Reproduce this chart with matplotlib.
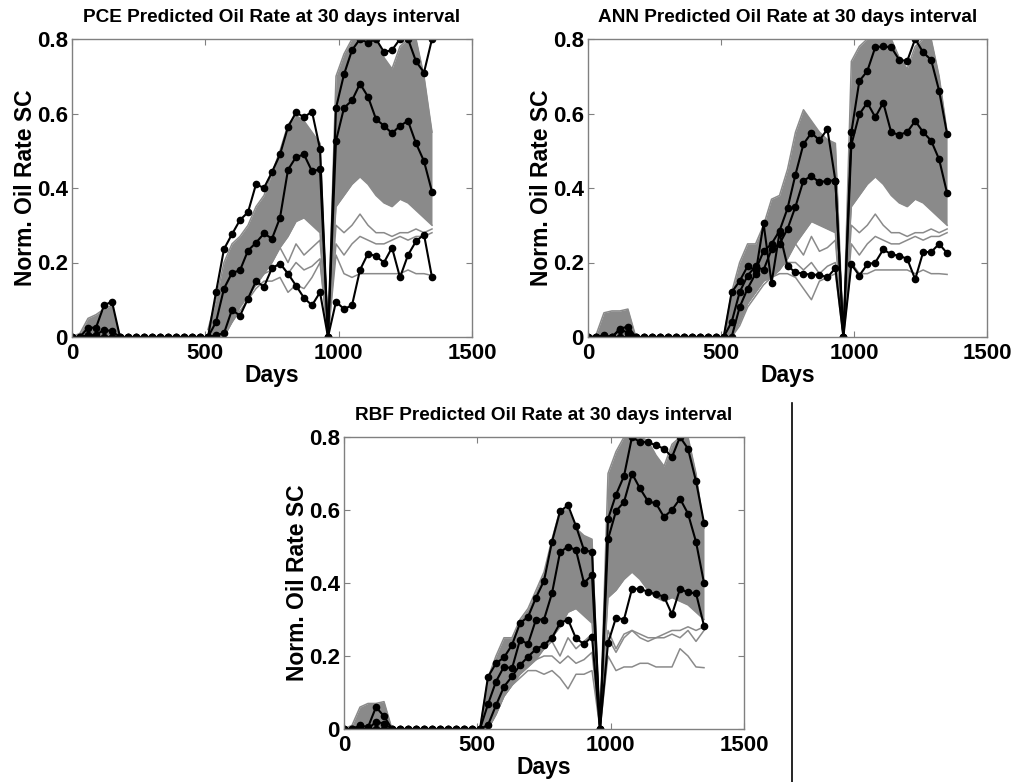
import matplotlib.pyplot as plt
import numpy as np
from matplotlib.lines import Line2D

# 30-day time steps, 0 .. 1350 days (46 points)
days = np.arange(0, 1351, 30)

# ---- black reference curves -------------------------------------------
# early bump (steps 0..5), then zeros up to step 17, then steps 18..45
pce_a_early = [0, 0, 0.025, 0.025, 0.085, 0.095]
pce_a_main = [0.12, 0.236, 0.276, 0.314, 0.335, 0.41, 0.40, 0.443, 0.49, 0.564, 0.603, 0.59, 0.605, 0.505,
              0,
              0.615, 0.705, 0.77, 0.80, 0.79, 0.80, 0.765, 0.77, 0.80, 0.80, 0.74, 0.71, 0.80]
pce_b_early = [0, 0, 0.005, 0.005, 0.02, 0.015]
pce_b_main = [0.04, 0.13, 0.172, 0.179, 0.232, 0.253, 0.278, 0.264, 0.32, 0.449, 0.483, 0.49, 0.445, 0.45,
              0,
              0.527, 0.615, 0.635, 0.68, 0.645, 0.585, 0.567, 0.547, 0.567, 0.58, 0.52, 0.472, 0.39]
pce_c_early = [0, 0, 0, 0, 0, 0]
pce_c_main = [0.005, 0.01, 0.073, 0.057, 0.103, 0.15, 0.135, 0.185, 0.197, 0.17, 0.138, 0.105, 0.085, 0.12,
              0,
              0.095, 0.075, 0.085, 0.18, 0.224, 0.217, 0.2, 0.24, 0.16, 0.22, 0.257, 0.275, 0.16]

ann_a_early = [0, 0, 0.005, 0, 0.022, 0.028]
ann_a_main = [0.12, 0.15, 0.19, 0.18, 0.23, 0.25, 0.285, 0.345, 0.436, 0.518, 0.548, 0.528, 0.558, 0.42,
              0,
              0.549, 0.687, 0.714, 0.778, 0.78, 0.778, 0.744, 0.741, 0.80, 0.764, 0.744, 0.661, 0.545]
ann_b_early = [0, 0, 0, 0, 0.02, 0.012]
ann_b_main = [0.04, 0.12, 0.165, 0.19, 0.18, 0.235, 0.25, 0.29, 0.35, 0.42, 0.432, 0.415, 0.42, 0.42,
              0,
              0.516, 0.598, 0.629, 0.59, 0.629, 0.549, 0.543, 0.55, 0.58, 0.55, 0.527, 0.477, 0.386]
ann_c_early = [0, 0, 0, 0, 0, 0]
ann_c_main = [0.0, 0.08, 0.13, 0.17, 0.305, 0.145, 0.28, 0.19, 0.174, 0.17, 0.167, 0.167, 0.16, 0.185,
              0,
              0.195, 0.165, 0.195, 0.2, 0.235, 0.222, 0.218, 0.21, 0.155, 0.228, 0.228, 0.25, 0.225]

rbf_a_early = [0, 0, 0.01, 0.005, 0.06, 0.035]
rbf_a_main = [0.143, 0.18, 0.196, 0.23, 0.29, 0.307, 0.36, 0.406, 0.513, 0.596, 0.613, 0.556, 0.49, 0.485,
              0,
              0.575, 0.642, 0.693, 0.80, 0.786, 0.786, 0.777, 0.768, 0.745, 0.80, 0.768, 0.679, 0.565]
rbf_b_early = [0, 0, 0, 0, 0.02, 0.015]
rbf_b_main = [0.068, 0.13, 0.171, 0.166, 0.244, 0.233, 0.30, 0.30, 0.372, 0.484, 0.50, 0.49, 0.40, 0.422,
              0,
              0.52, 0.597, 0.622, 0.70, 0.659, 0.624, 0.618, 0.581, 0.60, 0.631, 0.59, 0.513, 0.40]
rbf_c_early = [0, 0, 0, 0, 0, 0]
rbf_c_main = [0.011, 0.065, 0.116, 0.144, 0.175, 0.198, 0.219, 0.23, 0.25, 0.29, 0.30, 0.248, 0.233, 0.253,
              0,
              0.235, 0.305, 0.30, 0.384, 0.384, 0.376, 0.369, 0.363, 0.314, 0.384, 0.374, 0.372, 0.283]

# ---- grey ensemble --------------------------------------------------------
# bump envelope, steps 0..6
pce_bump = [0, 0.01, 0.05, 0.06, 0.075, 0.085, 0]
ann_bump = [0, 0.005, 0.065, 0.07, 0.07, 0.075, 0]
rbf_bump = [0, 0.01, 0.06, 0.07, 0.07, 0.075, 0]

# steps 17..45: upper edge and lower edge of the dense band
pce_hi = [0.02, 0.1, 0.2, 0.25, 0.27, 0.3, 0.35, 0.38, 0.44, 0.5, 0.57, 0.595, 0.58, 0.55, 0.52,
          0, 0.7, 0.76, 0.8, 0.8, 0.8, 0.8, 0.75, 0.72, 0.78, 0.8, 0.8, 0.7, 0.55]
pce_lo = [0, 0, 0, 0.04, 0.08, 0.11, 0.14, 0.17, 0.2, 0.24, 0.27, 0.31, 0.32, 0.3, 0.28,
          0, 0.35, 0.38, 0.41, 0.43, 0.41, 0.38, 0.36, 0.35, 0.37, 0.36, 0.34, 0.32, 0.3]
ann_hi = [0.0, 0.12, 0.2, 0.25, 0.25, 0.3, 0.37, 0.38, 0.45, 0.55, 0.61, 0.58, 0.55, 0.53, 0.52,
          0, 0.74, 0.78, 0.8, 0.8, 0.8, 0.8, 0.75, 0.72, 0.78, 0.8, 0.8, 0.7, 0.55]
ann_lo = [0, 0, 0.04, 0.09, 0.12, 0.15, 0.16, 0.18, 0.21, 0.25, 0.28, 0.31, 0.3, 0.29, 0.28,
          0, 0.35, 0.38, 0.41, 0.43, 0.41, 0.38, 0.36, 0.35, 0.37, 0.36, 0.34, 0.32, 0.3]
rbf_hi = [0.0, 0.14, 0.2, 0.25, 0.25, 0.3, 0.33, 0.38, 0.43, 0.52, 0.6, 0.6, 0.55, 0.53, 0.52,
          0, 0.7, 0.76, 0.8, 0.8, 0.8, 0.79, 0.75, 0.72, 0.78, 0.8, 0.8, 0.7, 0.55]
rbf_lo = [0, 0, 0.04, 0.09, 0.12, 0.15, 0.17, 0.19, 0.22, 0.25, 0.28, 0.32, 0.33, 0.31, 0.29,
          0, 0.36, 0.38, 0.41, 0.43, 0.41, 0.38, 0.36, 0.35, 0.36, 0.35, 0.34, 0.32, 0.3]

# individual grey lines below the band, steps 17..45
pce_thin = [
    [0, 0, 0.01, 0.04, 0.07, 0.1, 0.13, 0.15, 0.15, 0.16, 0.12, 0.14, 0.13, 0.16, 0.2,
     0, 0.22, 0.17, 0.16, 0.17, 0.17, 0.17, 0.17, 0.17, 0.17, 0.18, 0.17, 0.17, 0.165],
    [0, 0, 0.02, 0.06, 0.09, 0.12, 0.15, 0.17, 0.18, 0.2, 0.17, 0.2, 0.18, 0.19, 0.21,
     0, 0.25, 0.22, 0.25, 0.27, 0.26, 0.25, 0.25, 0.26, 0.27, 0.26, 0.27, 0.27, 0.28],
    [0, 0, 0.03, 0.07, 0.1, 0.14, 0.17, 0.19, 0.22, 0.24, 0.2, 0.25, 0.22, 0.24, 0.26,
     0, 0.3, 0.28, 0.3, 0.33, 0.3, 0.28, 0.28, 0.27, 0.28, 0.28, 0.29, 0.28, 0.29],
]
ann_thin = [
    [0, 0, 0.03, 0.08, 0.11, 0.14, 0.16, 0.17, 0.17, 0.16, 0.13, 0.1, 0.15, 0.16, 0.17,
     0, 0.2, 0.17, 0.17, 0.18, 0.18, 0.18, 0.18, 0.18, 0.17, 0.18, 0.17, 0.17, 0.168],
    [0, 0, 0.04, 0.09, 0.12, 0.15, 0.17, 0.19, 0.2, 0.2, 0.18, 0.2, 0.17, 0.19, 0.2,
     0, 0.25, 0.22, 0.25, 0.27, 0.26, 0.25, 0.25, 0.26, 0.27, 0.26, 0.27, 0.27, 0.28],
    [0, 0, 0.05, 0.1, 0.13, 0.16, 0.18, 0.2, 0.24, 0.25, 0.22, 0.27, 0.23, 0.24, 0.26,
     0, 0.3, 0.28, 0.3, 0.33, 0.3, 0.28, 0.28, 0.27, 0.28, 0.28, 0.29, 0.28, 0.29],
]
rbf_thin = [
    [0, 0, 0.04, 0.09, 0.12, 0.14, 0.16, 0.16, 0.15, 0.16, 0.14, 0.11, 0.15, 0.15, 0.16,
     0, 0.2, 0.16, 0.17, 0.17, 0.18, 0.18, 0.17, 0.17, 0.17, 0.22, 0.2, 0.17, 0.168],
    [0, 0, 0.05, 0.1, 0.13, 0.16, 0.18, 0.19, 0.2, 0.2, 0.18, 0.2, 0.18, 0.19, 0.21,
     0, 0.25, 0.21, 0.25, 0.27, 0.25, 0.24, 0.25, 0.25, 0.26, 0.25, 0.27, 0.24, 0.27],
    [0, 0, 0.05, 0.1, 0.13, 0.16, 0.18, 0.2, 0.22, 0.24, 0.2, 0.25, 0.22, 0.24, 0.26,
     0, 0.27, 0.22, 0.26, 0.27, 0.26, 0.25, 0.25, 0.26, 0.27, 0.27, 0.28, 0.27, 0.28],
]

GREY = "#8a8a8a"


def full_curve(early, main):
    return np.concatenate([early, np.zeros(12), main])


def draw_panel(ax, title, bump, hi, lo, thin, curves):
    # grey ensemble
    ax.fill_between(days[:7], 0, bump, color=GREY, lw=0)
    ax.plot(days[:7], bump, color=GREY, lw=1.1)
    ax.fill_between(days[17:], lo, hi, color=GREY, lw=0)
    ax.plot(days[17:], hi, color=GREY, lw=1.1)
    ax.plot(days[17:], lo, color=GREY, lw=1.1)
    for g in thin:
        ax.plot(days[17:], g, color=GREY, lw=1.1)

    # black curves with dots
    for early, main in curves:
        ax.plot(days, full_curve(early, main), color="black", lw=1.5,
                marker="o", markersize=4.5, markerfacecolor="black")

    ax.set_xlim(0, 1500)
    ax.set_ylim(0, 0.8)
    ax.set_xticks([0, 500, 1000, 1500])
    ax.set_xticklabels(["0", "500", "1000", "1500"])
    ax.set_yticks([0, 0.2, 0.4, 0.6, 0.8])
    ax.set_yticklabels(["0", "0.2", "0.4", "0.6", "0.8"])
    ax.tick_params(direction="in", length=4, width=0.8, color="#808080",
                   top=True, right=True, labelsize=16)
    ax.tick_params(axis="x", pad=4)
    ax.tick_params(axis="y", pad=3)
    for lab in ax.get_xticklabels() + ax.get_yticklabels():
        lab.set_fontweight("bold")
    for sp in ax.spines.values():
        sp.set_color("#808080")
        sp.set_linewidth(1.0)
    ax.set_title(title, fontsize=13.7, fontweight="bold", pad=12)
    ax.set_xlabel("Days", fontsize=16.5, fontweight="bold", labelpad=0)
    ax.set_ylabel("Norm. Oil Rate SC", fontsize=16.5, fontweight="bold", labelpad=0)


plt.rcParams["font.family"] = ["Liberation Sans", "DejaVu Sans"]

fig = plt.figure(figsize=(10.15, 7.82), dpi=100)
W, H = 1015.0, 782.0

ax1 = fig.add_axes([72 / W, (H - 337) / H, 400 / W, 298 / H])
ax2 = fig.add_axes([588 / W, (H - 337) / H, 399 / W, 298 / H])
ax3 = fig.add_axes([344 / W, (H - 729) / H, 400 / W, 292 / H])

draw_panel(ax1, "PCE Predicted Oil Rate at 30 days interval", pce_bump, pce_hi, pce_lo, pce_thin,
           [(pce_a_early, pce_a_main), (pce_b_early, pce_b_main), (pce_c_early, pce_c_main)])
draw_panel(ax2, "ANN Predicted Oil Rate at 30 days interval", ann_bump, ann_hi, ann_lo, ann_thin,
           [(ann_a_early, ann_a_main), (ann_b_early, ann_b_main), (ann_c_early, ann_c_main)])
draw_panel(ax3, "RBF Predicted Oil Rate at 30 days interval", rbf_bump, rbf_hi, rbf_lo, rbf_thin,
           [(rbf_a_early, rbf_a_main), (rbf_b_early, rbf_b_main), (rbf_c_early, rbf_c_main)])

# stray vertical rule at the right of the lower panel
fig.add_artist(Line2D([792 / W, 792 / W], [0, (H - 403) / H], color="black", lw=1.2))

fig.savefig("out.png", dpi=100)
